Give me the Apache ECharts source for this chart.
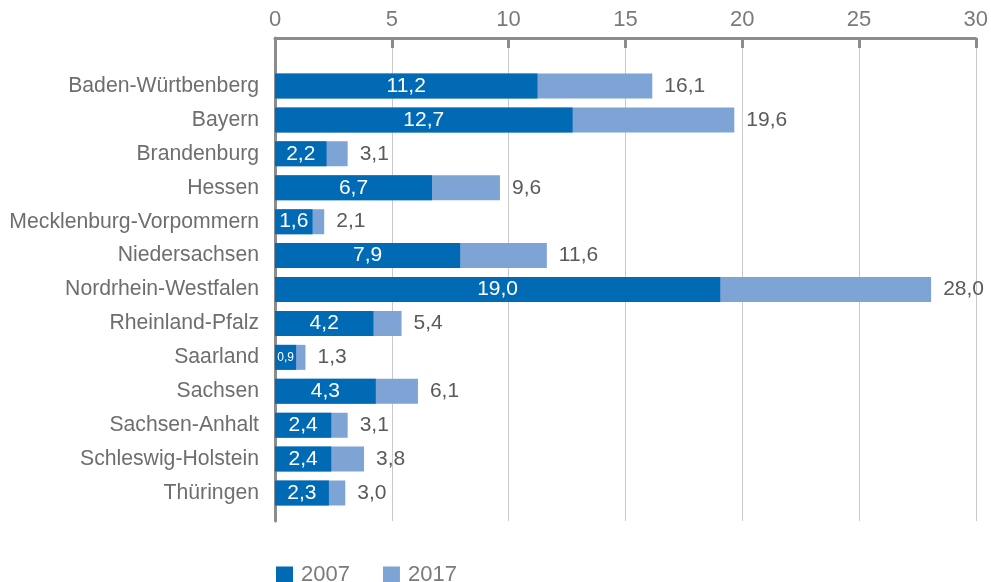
<!DOCTYPE html>
<html>
<head>
<meta charset="utf-8">
<style>
  html, body { margin: 0; padding: 0; background: #ffffff; }
  #chart { width: 991px; height: 582px; }
</style>
<script src="https://cdn.jsdelivr.net/npm/echarts@6/dist/echarts.min.js"></script>
</head>
<body>
<div id="chart"></div>
<script>
// Bundesländer, Werte 2007 und 2017
const laender = [
  'Baden-Würtbenberg', 'Bayern', 'Brandenburg', 'Hessen',
  'Mecklenburg-Vorpommern', 'Niedersachsen', 'Nordrhein-Westfalen',
  'Rheinland-Pfalz', 'Saarland', 'Sachsen', 'Sachsen-Anhalt',
  'Schleswig-Holstein', 'Thüringen'
];
const werte2007 = [11.2, 12.7, 2.2, 6.7, 1.6, 7.9, 19.0, 4.2, 0.9, 4.3, 2.4, 2.4, 2.3];
const werte2017 = [16.1, 19.6, 3.1, 9.6, 2.1, 11.6, 28.0, 5.4, 1.3, 6.1, 3.1, 3.8, 3.0];
const achsenMin = 0;
const achsenMax = 30;
const achsenSchritt = 5;

const FONT = '"Liberation Sans", Arial, Helvetica, sans-serif';
const fmt = v => v.toFixed(1).replace('.', ',');

const chart = echarts.init(document.getElementById('chart'), null, { renderer: 'canvas' });

const data2007 = werte2007.map(v => {
  const item = { value: v };
  if (v < 1) item.label = { fontSize: 12 };
  return item;
});

chart.setOption({
  animation: false,
  textStyle: { fontFamily: FONT },
  legend: {
    data: ['2007', '2017'],
    left: 271,
    top: 559,
    itemWidth: 17,
    itemHeight: 17,
    itemGap: 33,
    icon: 'rect',
    textStyle: { fontSize: 22, color: '#7a7a7a', fontFamily: FONT, padding: [0, 0, 0, 3] }
  },
  grid: [
    // frame grid: axes, ticks and grid lines
    { left: 275, right: 13, top: 38, bottom: 61 },
    // bar grid
    { left: 275, right: 13, top: 69, height: 441 }
  ],
  xAxis: [
    {
      gridIndex: 0,
      type: 'value',
      position: 'top',
      min: achsenMin, max: achsenMax, interval: achsenSchritt,
      axisLine: { show: true, onZero: false, lineStyle: { color: '#8c8c8c', width: 3 } },
      axisTick: { show: true, inside: true, length: 10, lineStyle: { color: '#8c8c8c', width: 3 } },
      axisLabel: { fontSize: 22, color: '#7a7a7a', margin: 7, fontFamily: FONT },
      splitLine: { show: true, lineStyle: { color: '#c9c9c9', width: 1 } }
    },
    {
      gridIndex: 1,
      type: 'value',
      min: achsenMin, max: achsenMax,
      show: false
    }
  ],
  yAxis: [
    {
      gridIndex: 0,
      type: 'value',
      min: 0, max: 1,
      axisLine: { show: true, onZero: false, lineStyle: { color: '#8c8c8c', width: 3 } },
      axisTick: { show: false },
      axisLabel: { show: false },
      splitLine: { show: false }
    },
    {
      gridIndex: 1,
      type: 'category',
      inverse: true,
      data: laender,
      axisLine: { show: false },
      axisTick: { show: false },
      axisLabel: { fontSize: 21.2, color: '#6e6e6e', margin: 16, fontFamily: FONT },
      splitLine: { show: false }
    }
  ],
  series: [
    {
      name: '2017',
      type: 'bar',
      xAxisIndex: 1, yAxisIndex: 1,
      data: werte2017,
      barWidth: 25,
      barGap: '-100%',
      itemStyle: { color: '#7ea3d5' },
      label: {
        show: true,
        position: 'right',
        distance: 12,
        fontSize: 21,
        color: '#5a5a5a',
        fontFamily: FONT,
        formatter: p => fmt(p.value)
      }
    },
    {
      name: '2007',
      type: 'bar',
      xAxisIndex: 1, yAxisIndex: 1,
      data: data2007,
      barWidth: 25,
      barGap: '-100%',
      itemStyle: { color: '#006ab4' },
      label: {
        show: true,
        position: 'inside',
        fontSize: 21,
        color: '#ffffff',
        fontFamily: FONT,
        formatter: p => fmt(p.value)
      }
    }
  ]
});
</script>
</body>
</html>
